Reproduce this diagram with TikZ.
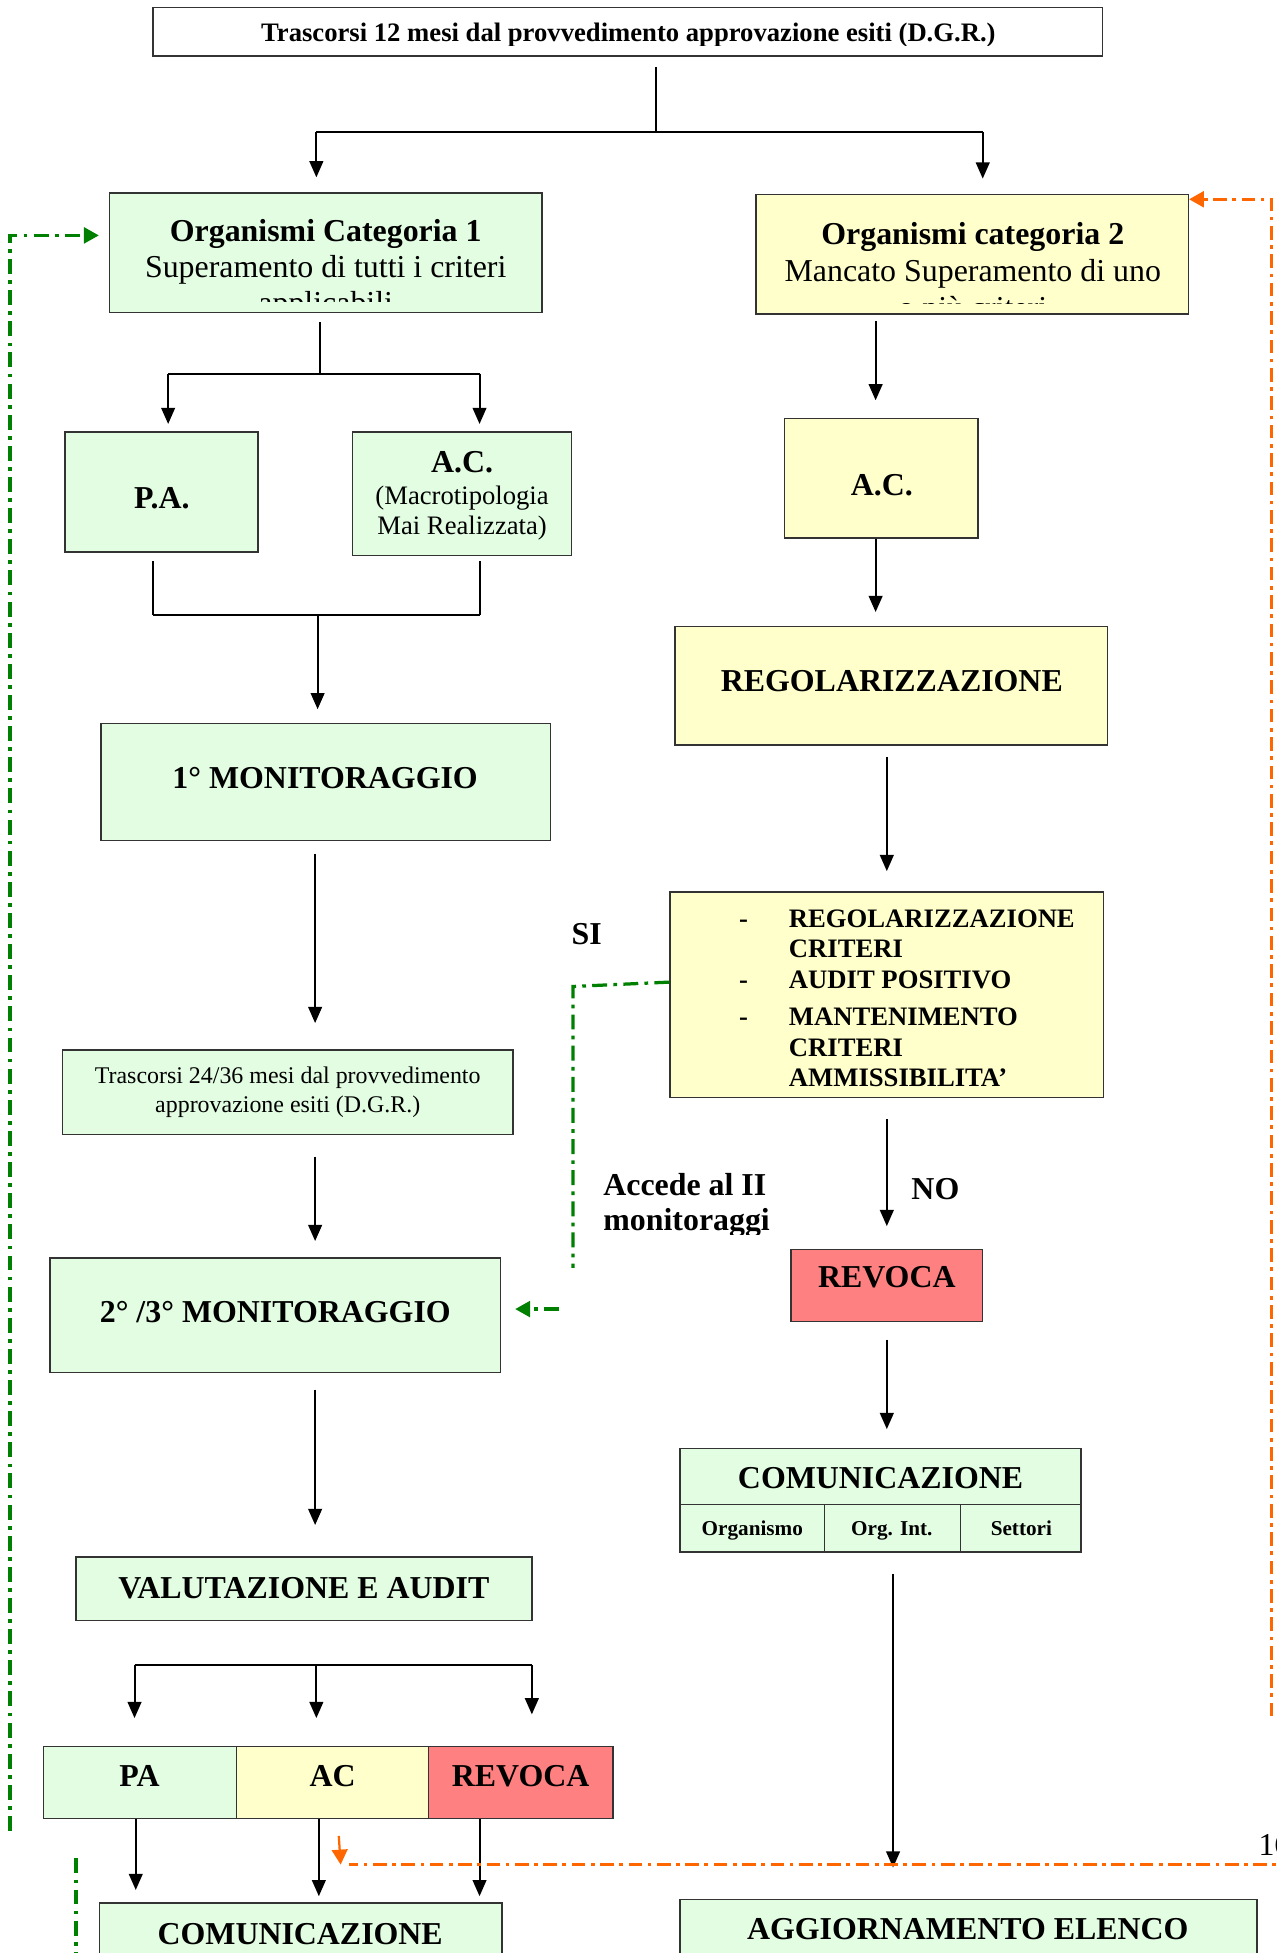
\documentclass[tikz,border=0pt]{standalone}
\usepackage{fontspec}
\setmainfont{Liberation Serif}
\usetikzlibrary{fit,arrows.meta,calc}
\definecolor{lgreen}{HTML}{E2FDE2}
\definecolor{lyellow}{HTML}{FFFFCC}
\definecolor{lred}{HTML}{FF8080}
\definecolor{dgreen}{HTML}{008000}
\definecolor{orng}{HTML}{FF6600}
\definecolor{bord}{HTML}{333333}
\newcommand\fntA{\fontsize{12.8}{15}\selectfont\bfseries}
\newcommand\fntB{\fontsize{12.8}{15}\selectfont}
\newcommand\fntC{\fontsize{10.7}{13}\selectfont\bfseries}
\newcommand\fntD{\fontsize{10.7}{13}\selectfont}
\newcommand\fntF{\fontsize{9.6}{12}\selectfont}
\newcommand\fntE{\fontsize{8.5}{10}\selectfont\bfseries}
\begin{document}
\begin{tikzpicture}[x=0.5pt,y=-0.5pt,
  box/.style={draw=bord, line width=0.6pt, inner sep=0pt, rectangle},
  wbox/.style={box, fill=white},
  gbox/.style={box, fill=lgreen},
  ybox/.style={box, fill=lyellow},
  rbox/.style={box, fill=lred},
  txt/.style={inner sep=0pt, anchor=base},
  ln/.style={line width=0.8pt},
  arr/.style={ln, -{Triangle[length=6.5pt,width=5.5pt]}},
  gdash/.style={draw=dgreen, line width=1.3pt, dash pattern=on 6pt off 2.5pt on 1.5pt off 2.5pt},
  odash/.style={draw=orng, line width=1.3pt, dash pattern=on 5.5pt off 2.2pt on 1.5pt off 2.2pt},
  dtip/.style={-{Triangle[length=6pt,width=6.3pt]}}
]
\useasboundingbox (0,0) rectangle (1025,1568);
\clip (0,0) rectangle (1025,1568);

% ---------- boxes ----------
\node[wbox, fit={(123,6) (885,45)}] (title) {};
\node[gbox, fit={(88,155) (435,251)}] (cat1) {};
\node[ybox, fit={(607,156) (954,252)}] (cat2) {};
\node[gbox, fit={(52,347) (207,443)}] (pa) {};
\node[gbox, fit={(283,347) (459,446)}] (acL) {};
\node[gbox, fit={(81,581) (442,675)}] (mon1) {};
\node[gbox, fit={(50,843) (412,911)}] (t24) {};
\node[gbox, fit={(40,1010) (402,1102)}] (mon2) {};
\node[gbox, fit={(61,1250) (427,1301)}] (val) {};
\node[gbox, fit={(35,1402) (190,1460)}] (rpa) {};
\node[ybox, fit={(190,1402) (344,1460)}] (rac) {};
\node[rbox, fit={(344,1402) (492,1460)}] (rrv) {};
\node[gbox, fit={(80,1528) (403,1610)}] (comL) {};
\node[ybox, fit={(630,336) (785,432)}] (ac2) {};
\node[ybox, fit={(542,503) (889,598)}] (reg) {};
\node[ybox, fit={(538,716) (886,881)}] (crit) {};
\node[rbox, fit={(635,1003) (789,1061)}] (rev) {};
\node[gbox, fit={(546,1163) (868,1208)}] (comR) {};
\node[gbox, fit={(546,1208) (662,1246)}] (cellA) {};
\node[gbox, fit={(662,1208) (771,1246)}] (cellB) {};
\node[gbox, fit={(771,1208) (868,1246)}] (cellC) {};
\node[gbox, fit={(546,1525) (1009,1610)}] (agg) {};

% ---------- texts ----------
\begin{scope}
  \clip (124,7) rectangle (884,36.5);
  \node[txt] (titlet) at (504.5,33) {\fntC Trascorsi 12 mesi dal provvedimento approvazione esiti (D.G.R.)};
\end{scope}
\begin{scope}
  \clip (89,156) rectangle (434,242);
  \node[txt] (cat1a) at (261.5,194) {\fntA Organismi Categoria 1};
  \node[txt] (cat1b) at (261.5,223) {\fntB Superamento di tutti i criteri};
  \node[txt] (cat1c) at (261.5,252) {\fntB applicabili};
\end{scope}
\begin{scope}
  \clip (608,157) rectangle (953,244);
  \node[txt] (cat2a) at (781,196) {\fntA Organismi categoria 2};
  \node[txt] (cat2b) at (781,226) {\fntB Mancato Superamento di uno};
  \node[txt] (cat2c) at (781,256) {\fntB o più criteri};
\end{scope}
\node[txt] (pat) at (130,408) {\fntA P.A.};
\node[txt] (acLa) at (371,379) {\fntA A.C.};
\node[txt] (acLb) at (371,405) {\fntD (Macrotipologia};
\node[txt] (acLc) at (371,429) {\fntD Mai Realizzata)};
\node[txt] (mon1t) at (261,633) {\fntA 1° MONITORAGGIO};
\node[txt] (t24a) at (231,870) {\fntF Trascorsi 24/36 mesi dal provvedimento};
\node[txt] (t24b) at (231,893) {\fntF approvazione esiti (D.G.R.)};
\node[txt] (mon2t) at (221,1062) {\fntA 2° /3° MONITORAGGIO};
\node[txt] (valt) at (244,1283) {\fntA VALUTAZIONE E AUDIT};
\node[txt] (rpat) at (112,1434) {\fntA PA};
\node[txt] (ract) at (267,1434) {\fntA AC};
\node[txt] (rrvt) at (418,1434) {\fntA REVOCA};
\node[txt] (comLt) at (241,1561) {\fntA COMUNICAZIONE};
\node[txt] (ac2t) at (708,398) {\fntA A.C.};
\node[txt] (regt) at (716,555) {\fntA REGOLARIZZAZIONE};
\foreach \n/\yy/\tt in {1/745/REGOLARIZZAZIONE, 2/769/CRITERI, 3/794/AUDIT POSITIVO, 4/823/MANTENIMENTO, 5/848/CRITERI, 6/872/AMMISSIBILITA’}
  \node[txt, anchor=base west] (crl\n) at (633,\yy) {\fntC \tt};
\foreach \n/\yy in {1/745, 2/794, 3/823}
  \node[txt] (dsh\n) at (597,\yy) {\fntC -};
\node[txt] (sit) at (471,758) {\fntA SI};
\begin{scope}
  \clip (470,930) rectangle (640,991);
  \node[txt, anchor=base west] (acc1) at (484,960) {\fntA Accede al II};
  \node[txt, anchor=base west] (acc2) at (484,988) {\fntA monitoraggi};
\end{scope}
\node[txt] (not) at (751,963) {\fntA NO};
\node[txt] (revt) at (712,1034) {\fntA REVOCA};
\node[txt] (comRt) at (707,1195) {\fntA COMUNICAZIONE};
\node[txt] (cellAt) at (604,1233) {\fntE Organismo};
\node[txt] (cellBt) at (716,1233) {\fntE Org. Int.};
\node[txt] (cellCt) at (820,1233) {\fntE Settori};
\node[txt] (aggt) at (777,1557) {\fntA AGGIORNAMENTO ELENCO};
\node[txt, anchor=base west] (pg) at (1010,1490) {\fntB 16};

% ---------- connectors ----------
\coordinate (j0) at (527,106);
\coordinate (j0l) at (254,106);
\coordinate (j0r) at (789,106);
\draw[ln, shorten <=4pt] (j0 |- title.south) -- (j0);
\draw[ln] (j0l) -- (j0r);
\draw[arr, shorten >=6pt] (j0l) -- (j0l |- cat1.north);
\draw[arr, shorten >=6pt] (j0r) -- (j0r |- cat2.north);

\coordinate (j1) at (257,300);
\coordinate (j1l) at (135,300);
\coordinate (j1r) at (385,300);
\draw[ln, shorten <=3.5pt] (j1 |- cat1.south) -- (j1);
\draw[ln] (j1l) -- (j1r);
\draw[arr, shorten >=3pt] (j1l) -- (j1l |- pa.north);
\draw[arr, shorten >=3pt] (j1r) -- (j1r |- acL.north);

\coordinate (j2l) at (123,494);
\coordinate (j2r) at (385,494);
\coordinate (j2) at (255,494);
\draw[ln, shorten <=3.5pt] (j2l |- pa.south) -- (j2l);
\draw[ln, shorten <=2pt] (j2r |- acL.south) -- (j2r);
\draw[ln] (j2l) -- (j2r);
\draw[arr, shorten >=5.5pt] (j2) -- (j2 |- mon1.north);

\coordinate (cl) at (253,0);
\draw[arr, shorten <=5pt, shorten >=10.5pt] (cl |- mon1.south) -- (cl |- t24.north);
\draw[arr, shorten <=8.5pt, shorten >=6.5pt] (cl |- t24.south) -- (cl |- mon2.north);
\draw[arr, shorten <=6.5pt, shorten >=12.5pt] (cl |- mon2.south) -- (cl |- val.north);

\coordinate (j3l) at (108,1337);
\coordinate (j3m) at (254,1337);
\coordinate (j3r) at (427,1337);
\draw[ln] (j3l) -- (j3r);
\draw[arr, shorten >=11pt] (j3l) -- (j3l |- rpa.north);
\draw[arr, shorten >=11pt] (j3m) -- (j3m |- rac.north);
\draw[arr, shorten >=12.5pt] (j3r) -- (j3r |- rrv.north);

\coordinate (k1) at (109,0);
\coordinate (k2) at (256,0);
\coordinate (k3) at (385,0);
\draw[arr, shorten >=5pt] (k1 |- rpa.south) -- (k1 |- comL.north);
\draw[arr, shorten >=2.5pt] (k2 |- rac.south) -- (k2 |- comL.north);
\draw[arr, shorten >=2.5pt] (k3 |- rrv.south) -- (k3 |- comL.north);

\coordinate (cr) at (703,0);
\draw[arr, shorten <=2.5pt, shorten >=7pt] (cr |- cat2.south) -- (cr |- ac2.north);
\draw[arr, shorten >=5.5pt] (cr |- ac2.south) -- (cr |- reg.north);
\coordinate (cr2) at (712,0);
\draw[arr, shorten <=4.5pt, shorten >=8pt] (cr2 |- reg.south) -- (cr2 |- crit.north);
\draw[arr, shorten <=8.5pt, shorten >=9pt] (cr2 |- crit.south) -- (cr2 |- rev.north);
\draw[arr, shorten <=7pt, shorten >=7.5pt] (cr2 |- rev.south) -- (cr2 |- comR.north);
\coordinate (cr3) at (717,0);
\draw[arr, shorten <=8.5pt, shorten >=12.5pt] (cr3 |- cellB.south) -- (cr3 |- agg.north);

% green SI path
\coordinate (s1) at (460,792);
\coordinate (s2) at (460,1018);
\draw[gdash] ([yshift=5pt]crit.west) -- (s1) -- (s2);
\coordinate (s3) at (449,1051);
\draw[gdash, dtip, shorten >=5.5pt] (s3) -- (s3 -| mon2.east);

% green left loop
\coordinate (g1) at (8,1470);
\coordinate (g2) at (8,189);
\draw[gdash, dtip, shorten >=4pt] (g1) -- (g2) -- (g2 -| cat1.west);
\coordinate (g3) at (61,1492);
\coordinate (g4) at (61,1580);
\draw[gdash] (g3) -- (g4);

% orange loop
\coordinate (o1) at (1021,1378);
\coordinate (o2) at (1021,160);
\draw[odash, dtip] (o1) -- (o2) -- (o2 -| cat2.east);
\coordinate (o3) at (1040,1497);
\coordinate (o4) at (280,1497);
\draw[odash] (o3) -- (o4);
\coordinate (o5) at (272,1474);
\coordinate (o6) at (273.5,1497);
\draw[orng, line width=0.9pt, dtip] (o5) -- (o6);
\end{tikzpicture}
\end{document}
